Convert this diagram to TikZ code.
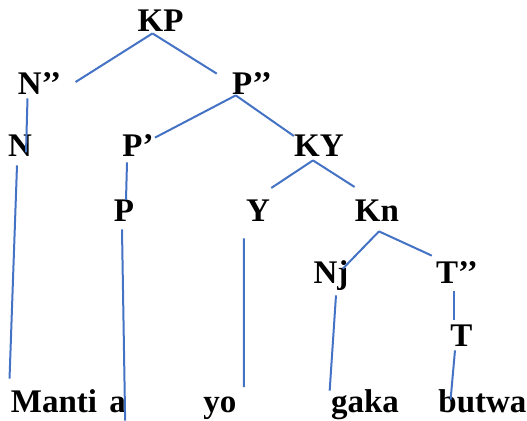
\documentclass[tikz,border=0pt]{standalone}
\usepackage{fontspec}
\setmainfont{Liberation Serif}
\usetikzlibrary{calc}
\definecolor{branchblue}{RGB}{68,114,196}

\begin{document}
\begin{tikzpicture}[x=0.5pt,y=0.5pt,
    cat/.style={font=\fontsize{16.5}{20}\selectfont\bfseries,inner sep=0pt,anchor=base},
    branch/.style={draw=branchblue,line width=1pt}
  ]
  \useasboundingbox (0,0) rectangle (527,421);

  % Phrase level
  \node[cat] (kp) at (160.5,389) {KP};
  \node[cat] (npp) at (39.5,326) {N’{}’};
  \node[cat] (ppp) at (252,326) {P’{}’};

  % Heads and bars
  \node[cat] (n) at (20,264) {N};
  \node[cat] (pp) at (138,264) {P’};
  \node[cat] (ky) at (319,264) {KY};
  \node[cat] (p) at (124,199) {P};
  \node[cat] (y) at (258,199) {Y};
  \node[cat] (kn) at (377,199) {Kn};
  \node[cat] (nj) at (331,137) {Nj};
  \node[cat] (tpp) at (457,137) {T’{}’};
  \node[cat] (t) at (461.5,74) {T};

  % Words
  \node[cat] (manti) at (54,8) {Manti};
  \node[cat] (a) at (117.5,8) {a};
  \node[cat] (yo) at (220,8) {yo};
  \node[cat] (gaka) at (365,8) {gaka};
  \node[cat] (butwa) at (482.5,8) {butwa};

  % Branches
  \draw[branch] ($(kp.south)+(-8,-1)$) -- ($(npp.east)+(14,2)$);
  \draw[branch] ($(kp.south)+(-8,-1)$) -- ($(ppp.north west)+(-15,-1)$);
  \draw[branch] ($(npp.south)+(-12,-3)$) -- ($(n.south)+(6,5)$);
  \draw[branch] ($(n.south)+(-3,-8)$) -- ($(manti.north west)+(-1,11)$);
  \draw[branch] ($(ppp.south west)+(4,0)$) -- ($(pp.north east)+(1,-3)$);
  \draw[branch] ($(ppp.south west)+(4,0)$) -- ($(ky.north west)+(0,-1)$);
  \draw[branch] ($(pp.south)+(-11,-5)$) -- ($(p.north)+(2,0)$);
  \draw[branch] ($(p.south)+(-2,-7)$) -- ($(a.south east)+(-1,-7)$);
  \draw[branch] ($(ky.south)+(-6,-3)$) -- ($(y.north east)+(1,12)$);
  \draw[branch] ($(ky.south)+(-6,-3)$) -- ($(kn.north west)+(0,13)$);
  \draw[branch] ($(y.south)+(-14,-16)$) -- ($(yo.north east)+(7,10)$);
  \draw[branch] ($(kn.south)+(2,-9)$) -- ($(nj.north east)+(-6,-8)$);
  \draw[branch] ($(kn.south)+(2,-9)$) -- ($(tpp.north west)+(-4,6)$);
  \draw[branch] ($(nj.south)+(5,-4)$) -- ($(gaka.north west)+(-1,-1)$);
  \draw[branch] ($(tpp.south)+(-3,-7)$) -- ($(t.north)+(-7.5,5)$);
  \draw[branch] ($(t.south)+(-6.5,-3)$) -- ($(butwa.north west)+(12.5,-10)$);
\end{tikzpicture}
\end{document}
